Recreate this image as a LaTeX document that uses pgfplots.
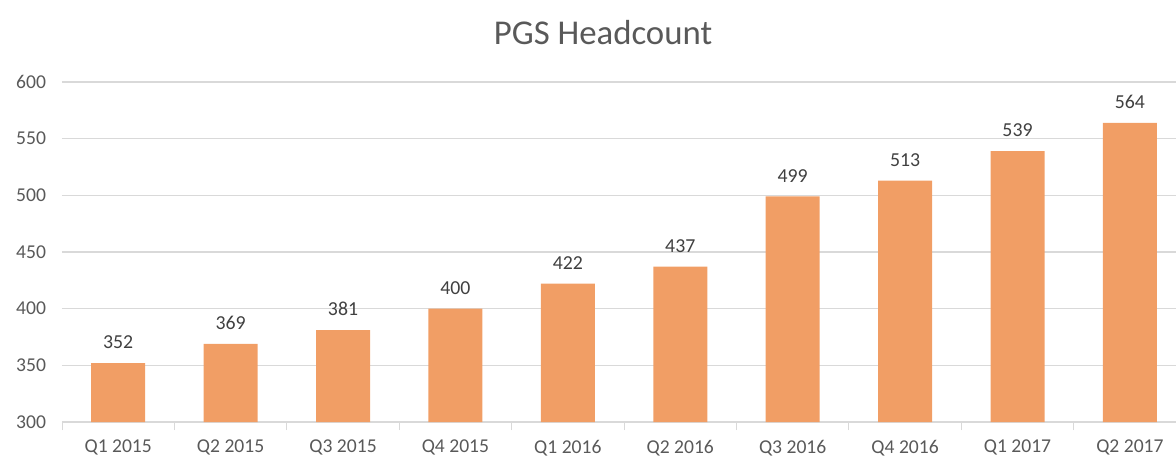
\documentclass[border=0pt]{standalone}
\usepackage{pgfplots}
\pgfplotsset{compat=1.18}
\usepackage{fontspec}
\setmainfont{Carlito}
\definecolor{barc}{RGB}{241,158,101}
\definecolor{gridc}{RGB}{217,217,217}
\definecolor{txt}{RGB}{89,89,89}
\definecolor{lbl}{RGB}{64,64,64}
\begin{document}
\begin{tikzpicture}
\path[use as bounding box] (-31pt,-17pt) rectangle (557pt,211pt);
\begin{axis}[
  scale only axis,
  width=557pt, height=170pt,
  xmin=-0.5, xmax=9.41,
  ymin=300, ymax=600,
  ytick={300,350,...,600},
  xtick={0,...,9},
  xticklabels={Q1 2015,Q2 2015,Q3 2015,Q4 2015,Q1 2016,Q2 2016,Q3 2016,Q4 2016,Q1 2017,Q2 2017},
  minor xtick={-0.5,0.5,...,9.5},
  major tick length=0pt,
  minor tick length=4pt,
  tick align=outside,
  axis x line*=bottom,
  axis y line*=left,
  y axis line style={draw=none},
  x axis line style={draw=gridc},
  every tick/.style={draw=gridc},
  ymajorgrids,
  grid style={draw=gridc, line width=0.6pt},
  /pgf/number format/assume math mode=true,
  tick label style={font=\fontsize{9.8}{11}\selectfont, text=txt},
  yticklabel style={xshift=-4.5pt},
  xticklabel style={yshift=-5.5pt},
  ybar,
  bar width=27pt,
  nodes near coords,
  every node near coord/.append style={font=\fontsize{9.9}{12}\selectfont, text=lbl, yshift=3.5pt},
  clip=false,
]
\addplot[fill=barc, draw=none] coordinates {
(0,352) (1,369) (2,381) (3,400) (4,422) (5,437) (6,499) (7,513) (8,539) (9,564)};
\end{axis}
\node[font=\fontsize{17.4}{21}\selectfont, text=txt] at (270.5pt,194.5pt) {PGS Headcount};
\end{tikzpicture}
\end{document}
